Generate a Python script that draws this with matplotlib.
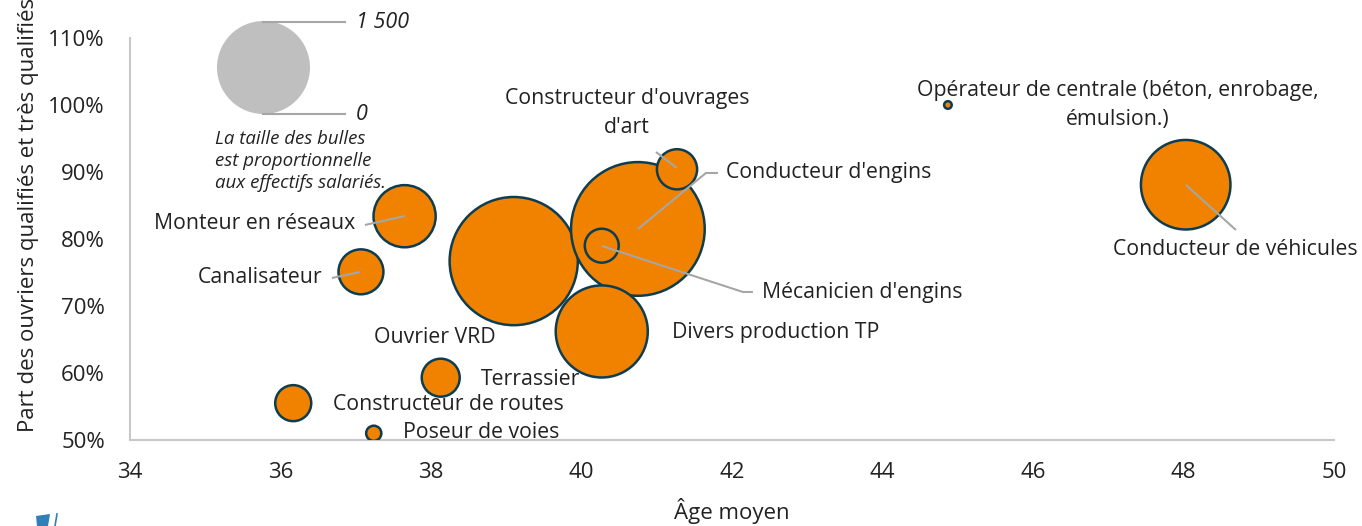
import numpy as np
import matplotlib.pyplot as plt
from matplotlib.patches import Polygon

plt.rcParams['font.family'] = ['Open Sans', 'DejaVu Sans']

# Métiers : âge moyen, part des ouvriers qualifiés, effectifs salariés
metiers = ["Monteur en réseaux", "Canalisateur", "Ouvrier VRD", "Conducteur d'engins",
           "Constructeur d'ouvrages\nd'art", "Mécanicien d'engins", "Divers production TP",
           "Terrassier", "Constructeur de routes", "Poseur de voies",
           "Opérateur de centrale (béton, enrobage,\némulsion.)", "Conducteur de véhicules"]
age = [37.65, 37.07, 39.10, 40.75, 41.27, 40.27, 40.27, 38.13, 36.17, 37.24, 44.87, 48.03]
part = [83.4, 75.1, 76.7, 81.5, 90.4, 79.0, 66.2, 59.3, 55.5, 51.0, 100.0, 88.1]
effectifs = [670, 350, 2850, 3100, 280, 200, 1470, 250, 225, 40, 10, 1390]

orange = '#F08200'
bord = '#0E3D50'
gris = '#A6A6A6'
noir = '#222222'

fig = plt.figure(figsize=(13.62, 5.26), dpi=100)
ax = fig.add_axes([0.0954, 0.1635, 0.884, 0.7643])

# taille des bulles : 1 500 salariés -> rayon de 46.5 px
k = (2 * 46.5 * 0.72) ** 2 / 1500
ax.scatter(age, part, s=np.array(effectifs) * k, color=orange, edgecolor=bord,
           linewidth=1.8, zorder=3)

ax.set_xlim(34, 50)
ax.set_ylim(50, 110)
ax.set_xticks(np.arange(34, 51, 2))
ax.set_yticks(np.arange(50, 111, 10))
ax.set_yticklabels([f"{v}%" for v in range(50, 111, 10)])
ax.tick_params(length=0, labelsize=16, colors=noir)
ax.tick_params(axis='y', pad=18)
ax.tick_params(axis='x', pad=16)
for s in ['top', 'right']:
    ax.spines[s].set_visible(False)
for s in ['left', 'bottom']:
    ax.spines[s].set_color('#C8C8C8')
    ax.spines[s].set_linewidth(1.5)

ax.set_xlabel("Âge moyen", fontsize=16, color=noir, labelpad=11)
ax.set_ylabel("Part des ouvriers qualifiés et très qualifiés", fontsize=16, color=noir)
ax.yaxis.set_label_coords(-0.0756, 0.56)

tx = dict(fontsize=15.3, color=noir)
px = lambda x: 34 + (x - 130) / 75.25
py = lambda y: 50 + (440 - y) / 6.7

def lien(pts):
    xs = [px(p[0]) for p in pts]
    ys = [py(p[1]) for p in pts]
    ax.plot(xs, ys, color=gris, lw=1.5, zorder=4, solid_capstyle='butt')

# étiquettes et traits de rappel
ax.text(px(355), py(224), metiers[0], ha='right', va='center', **tx)
lien([(365, 225), (405, 216)])
ax.text(px(322), py(278), metiers[1], ha='right', va='center', **tx)
lien([(332, 278), (360, 272)])
ax.text(px(435), py(338), metiers[2], ha='center', va='center', **tx)
ax.text(px(726), py(173), metiers[3], ha='left', va='center', **tx)
lien([(718, 173), (706, 173), (638, 229)])
ax.text(px(627), py(113), metiers[4], ha='center', va='center', linespacing=1.55, **tx)
lien([(656, 152), (677, 168)])
ax.text(px(762), py(293), metiers[5], ha='left', va='center', **tx)
lien([(753, 292), (743, 292), (602, 246)])
ax.text(px(672), py(333), metiers[6], ha='left', va='center', **tx)
ax.text(px(580), py(380), metiers[7], ha='right', va='center', **tx)
ax.text(px(333), py(405), metiers[8], ha='left', va='center', **tx)
ax.text(px(403), py(433), metiers[9], ha='left', va='center', **tx)
ax.text(px(1118), py(105), metiers[10], ha='center', va='center', linespacing=1.55, **tx)
ax.text(px(1235), py(250), metiers[11], ha='center', va='center', **tx)
lien([(1236, 230), (1186, 185)])

# légende des tailles
ax.scatter([px(263)], [py(67)], s=1500 * k, color='#BFBFBF', linewidth=0, zorder=2,
           clip_on=False)
ax.plot([px(263), px(345)], [py(22), py(22)], color=gris, lw=1.5, clip_on=False)
ax.plot([px(263), px(345)], [py(114), py(114)], color=gris, lw=1.5, clip_on=False)
ax.text(px(356), py(23), "1 500", ha='left', va='center', style='italic', fontsize=15.5,
        color=noir)
ax.text(px(356), py(115), "0", ha='left', va='center', style='italic', fontsize=15.5,
        color=noir)
ax.text(px(215), py(161), "La taille des bulles\nest proportionnelle\naux effectifs salariés.",
        ha='left', va='center', style='italic', fontsize=13.4, color=noir, linespacing=1.26)

# petit logo en bas à gauche
W, H = 1362, 526
logo = Polygon([(36 / W, 1 - 516 / H), (50 / W, 1 - 514 / H), (48 / W, 0), (37 / W, 0)],
               closed=True, transform=fig.transFigure, color='#2F7FB8', lw=0)
fig.patches.append(logo)
fig.lines.append(plt.Line2D([57 / W, 55 / W], [1 - 514 / H, 0], transform=fig.transFigure,
                            color='#2F7FB8', lw=1.2))

fig.savefig('out.png', dpi=100)
